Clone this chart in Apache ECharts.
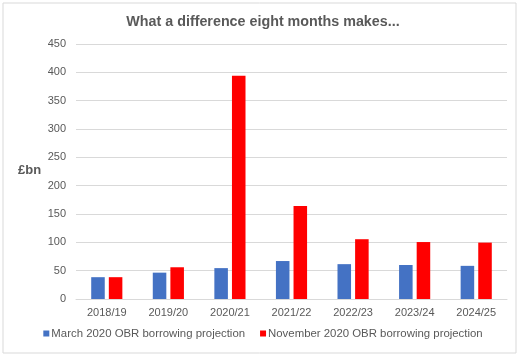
<!DOCTYPE html>
<html>
<head>
<meta charset="utf-8">
<script src="https://cdn.jsdelivr.net/npm/echarts@6/dist/echarts.min.js"></script>
<style>
html,body{margin:0;padding:0;background:#fff;}
#c{width:526px;height:358px;}
</style>
</head>
<body>
<div id="c"></div>
<script>
var categories = ['2018/19','2019/20','2020/21','2021/22','2022/23','2023/24','2024/25'];
var march2020 = [38.5, 46.5, 54.5, 67, 61.5, 60, 58.5];
var november2020 = [38.5, 56, 394, 164, 105.5, 100.5, 99.5];
var seriesNames = ['March 2020 OBR borrowing projection','November 2020 OBR borrowing projection'];

var chart = echarts.init(document.getElementById('c'), null, {renderer:'canvas'});
var font = 'Liberation Sans, Arial, sans-serif';
chart.setOption({
  animation:false,
  backgroundColor:'#fff',
  graphic:[
    {type:'rect', shape:{x:3,y:3,width:513,height:350}, style:{fill:'none',stroke:'#D9D9D9',lineWidth:1}, silent:true},
    {type:'text', left:18, top:164, style:{text:'£bn', font:'bold 13px '+font, fill:'#595959'}}
  ],
  title:{
    text:'What a difference eight months makes...',
    left:'center', top:10,
    textStyle:{fontFamily:font, fontSize:14.3, fontWeight:'bold', color:'#595959'}
  },
  legend:{
    bottom:14, left:'center',
    itemWidth:6, itemHeight:6, itemGap:15,
    icon:'rect',
    textStyle:{fontFamily:font, fontSize:11.4, color:'#595959', padding:[0,0,0,-3]},
    data:seriesNames
  },
  grid:{left:76, right:19, top:44, bottom:59, containLabel:false},
  xAxis:{
    type:'category', data:categories,
    axisLine:{lineStyle:{color:'#D9D9D9'}},
    axisTick:{show:false},
    axisLabel:{fontFamily:font, fontSize:11, color:'#595959', margin:8}
  },
  yAxis:{
    type:'value', min:0, max:450, interval:50,
    axisLine:{show:false}, axisTick:{show:false},
    splitLine:{lineStyle:{color:'#D9D9D9'}},
    axisLabel:{fontFamily:font, fontSize:11, color:'#595959', margin:10}
  },
  series:[
    {name:seriesNames[0], type:'bar', data:march2020, barWidth:'22%', barGap:'30%', itemStyle:{color:'#4472C4'}},
    {name:seriesNames[1], type:'bar', data:november2020, barWidth:'22%', barGap:'30%', itemStyle:{color:'#FF0000'}}
  ]
});
</script>
</body>
</html>
